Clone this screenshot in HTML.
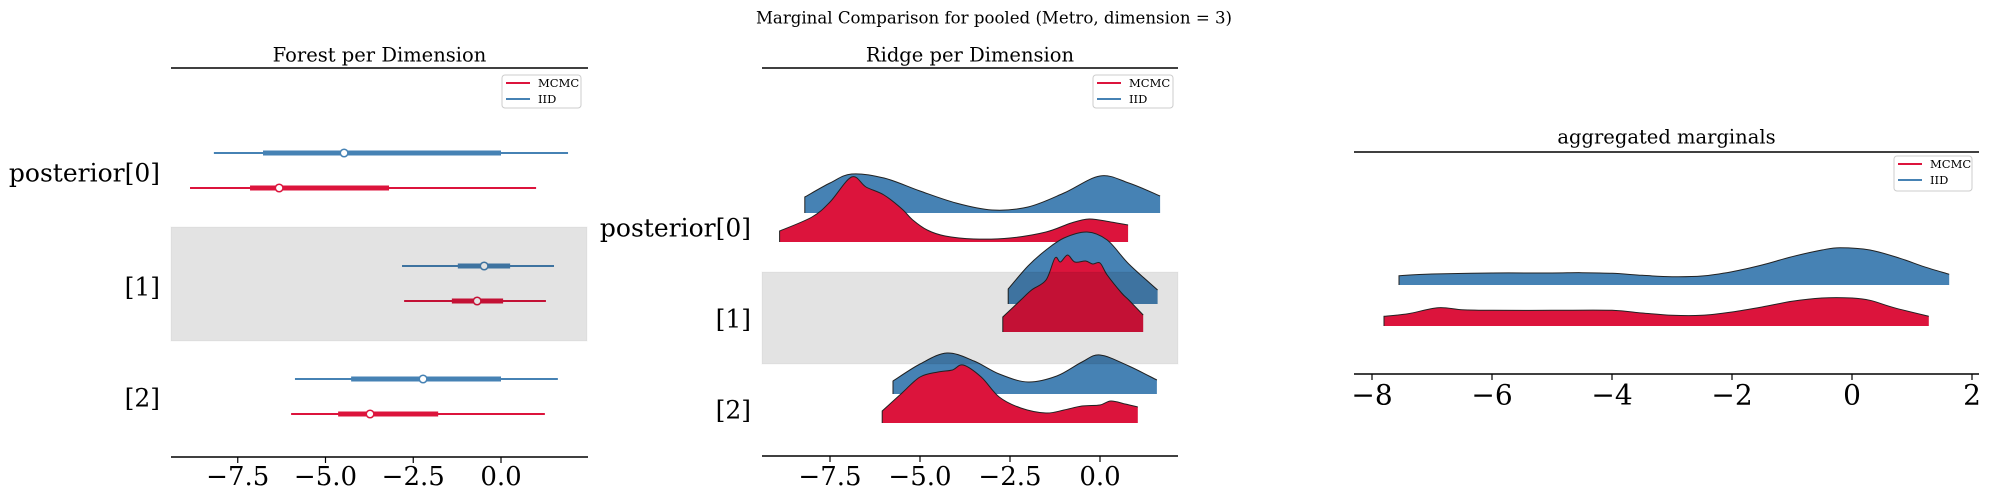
<!DOCTYPE html>
<html><head><meta charset="utf-8">
<style>
html,body{margin:0;padding:0;background:#fff;}
svg{display:block;font-family:"DejaVu Serif","Liberation Serif",serif;}
</style></head>
<body>
<svg id="fig" width="1989" height="499" viewBox="0 0 1989 499" xmlns="http://www.w3.org/2000/svg">
<text x="994" y="18" font-size="16.6" text-anchor="middle" dominant-baseline="central">Marginal Comparison for pooled (Metro, dimension = 3)</text>
<g id="p1"></g>
<g id="p2"></g>
<g id="p3"></g>
</svg>
<script>
const RED="#DC143C", BLUE="#4682B4";
const rowLabels=["posterior[0]","[1]","[2]"];
const seriesNames=["MCMC","IID"];
// Forest: [whiskerLo, boxLo, median, boxHi, whiskerHi]
const forestIID=[[-8.18,-6.78,-4.47,0.0,1.91],[-2.82,-1.23,-0.48,0.26,1.51],[-5.87,-4.27,-2.22,0.0,1.62]];
const forestMCMC=[[-8.86,-7.15,-6.32,-3.19,1.0],[-2.76,-1.40,-0.68,0.06,1.28],[-5.98,-4.64,-3.73,-1.79,1.25]];
const ticks12=[-7.5,-5.0,-2.5,0.0];
const tickLabels12=["\u22127.5","\u22125.0","\u22122.5","0.0"];
// Ridge densities (x, height)
const ridgeIIDx=[[-8.2,-7.5,-6.9,-6,-5,-4,-3,-2,-1,0,0.8,1.67],[-2.55,-2,-1.5,-1,-0.36,0.2,0.8,1.6],[-5.75,-5,-4.25,-3.5,-2.8,-2,-1.2,-0.5,0,0.8,1.58]];
const ridgeIIDy=[[16,30,39,35,22,10,3,6,20,37,30,17],[15,38,54,66,72,64,40,14],[13,30,41,33,20,12,18,32,39,28,14]];
const ridgeMCMCx=[[-8.9,-8,-7.5,-6.9,-6.5,-6,-5.5,-5.2,-4.8,-4.3,-3.5,-2.5,-1.5,-0.8,-0.3,0.3,0.78],[-2.7,-2.2,-1.9,-1.5,-1.25,-1.1,-0.9,-0.7,-0.4,-0.2,0,0.2,0.6,0.8,1.2],[-6.05,-5.5,-5.0,-4.5,-4.1,-3.8,-3.3,-2.8,-2.2,-1.5,-1.0,-0.5,0,0.3,0.7,1.05]];
const ridgeMCMCy=[[11,25,40,65,55,47,33,22,12,6,3,4,10,19,23,20,17],[15,32,42,52,74,70,77,70,71,68,69,57,39,32,17],[12,30,46,51,53,58,46,26,15,10,13,17,18,22,19,16]];
// Aggregated
const aggIIDx=[-7.55,-7,-6,-5,-4.5,-4,-3.5,-3,-2.5,-2,-1.5,-1,-0.5,-0.2,0.3,0.8,1.2,1.62];
const aggIIDy=[9.3,11,12,12,12.3,11.7,9.7,8.3,9,13.3,20,28.3,35,37.3,35,26.7,18.3,10.7];
const aggMCMCx=[-7.8,-7.4,-6.9,-6.5,-6,-5,-4,-3.5,-3,-2.5,-2,-1.5,-1,-0.5,0,0.3,0.7,1.28];
const aggMCMCy=[9.7,12.3,18.3,16.3,15.7,15.7,15.7,13,10.7,10.7,14,19,24.7,28,28,25.7,18.3,9.7];
const ticks3=[-8,-6,-4,-2,0,2];
const tickLabels3=["\u22128","\u22126","\u22124","\u22122","0","2"];

const NS="http://www.w3.org/2000/svg";
function mk(parent,tag,attrs){const e=document.createElementNS(NS,tag);for(const k in attrs)e.setAttribute(k,attrs[k]);parent.appendChild(e);return e;}
function lin(d0,d1,r0,r1){return v=>r0+(v-d0)*(r1-r0)/(d1-d0);}
function smooth(pts){let d="M"+pts[0][0]+","+pts[0][1];for(let i=0;i<pts.length-1;i++){const p0=pts[Math.max(0,i-1)],p1=pts[i],p2=pts[i+1],p3=pts[Math.min(pts.length-1,i+2)];const c1=[p1[0]+(p2[0]-p0[0])/6,p1[1]+(p2[1]-p0[1])/6],c2=[p2[0]-(p3[0]-p1[0])/6,p2[1]-(p3[1]-p1[1])/6];d+=" C"+c1[0].toFixed(1)+","+c1[1].toFixed(1)+" "+c2[0].toFixed(1)+","+c2[1].toFixed(1)+" "+p2[0].toFixed(1)+","+p2[1].toFixed(1);}return d;}

function axesFrame(g,x0,x1,yTop,yBot,title,titleY,sx,ticks,labels,labelY,fs){
  let t=mk(g,"text",{x:(x0+x1)/2,y:titleY,"font-size":19.5,"text-anchor":"middle","dominant-baseline":"central"});t.textContent=title;
  
  
  let s=mk(g,"line",{x1:x0,x2:x1,y1:yTop,y2:yTop,stroke:"#000","stroke-width":1.5});
  
  
  let b=mk(g,"line",{x1:x0,x2:x1,y1:yBot,y2:yBot,stroke:"#000","stroke-width":1.5});
  
  
  ticks.forEach((v,i)=>{const x=sx(v);
    let tk=mk(g,"line",{x1:x,x2:x,y1:yBot,y2:yBot+6,stroke:"#000","stroke-width":1.2});
    
    
    let tl=mk(g,"text",{x:x,y:labelY,"font-size":fs,"text-anchor":"middle","dominant-baseline":"central"});tl.textContent=labels[i];
    
    
  });
}
function legend(g,x0,y0,x1,y1){
  let r=mk(g,"rect",{x:x0,y:y0,width:x1-x0,height:y1-y0,rx:3,fill:"#fff",stroke:"#ccc","stroke-width":1});
  
  
  [RED,BLUE].forEach((c,i)=>{const y=y0+8+i*16;
    let l=mk(g,"line",{x1:x0+4,x2:x0+28,y1:y,y2:y,stroke:c,"stroke-width":2});
    
    
    let t=mk(g,"text",{x:x0+36,y:y,"font-size":11.5,"dominant-baseline":"central"});t.textContent=seriesNames[i];
    
    
  });
}
function rowLabel(g,x,y,txt){let t=mk(g,"text",{x:x,y:y,"font-size":25,"text-anchor":"end","dominant-baseline":"central"});t.textContent=txt;
  
  }
function band(g,x0,x1,y0,y1){let r=mk(g,"rect",{x:x0,y:y0,width:x1-x0,height:y1-y0,fill:"#000","fill-opacity":0.11,stroke:"#000","stroke-opacity":0.04});
  
  }

// Panel 1 forest
(function(){
  const g=document.getElementById("p1");
  const sx=lin(0,1,501,536.1);
  axesFrame(g,171,588,68,457,"Forest per Dimension",55,sx,ticks12,tickLabels12,477,26);
  const rowY=[[153,188],[266,301],[379,414]], labY=[173,287,398];
  rowLabels.forEach((l,i)=>rowLabel(g,160,labY[i],l));
  [forestIID,forestMCMC].forEach((data,si)=>{const c=si==0?BLUE:RED;
    data.forEach((d,i)=>{const y=rowY[i][si];
      let w=mk(g,"line",{x1:sx(d[0]),x2:sx(d[4]),y1:y,y2:y,stroke:c,"stroke-width":2});
      
      
      let b=mk(g,"line",{x1:sx(d[1]),x2:sx(d[3]),y1:y,y2:y,stroke:c,"stroke-width":5});
      
      
      let p=mk(g,"circle",{cx:sx(d[2]),cy:y,r:3.8,fill:"#fff",stroke:c,"stroke-width":1.5});
      
      
    });});
  band(g,171,587,227,341);
  legend(g,502,75,581,108);
})();

function ridge(g,sx,xs,ys,base,color,scale){
  const pts=xs.map((v,i)=>[sx(v),base-ys[i]*scale]);
  const top=smooth(pts);
  let f=mk(g,"path",{d:top+" L"+pts[pts.length-1][0]+","+base+" L"+pts[0][0]+","+base+" Z",fill:color,stroke:"none"});
  
  
  let l=mk(g,"path",{d:"M"+pts[0][0]+","+base+" L"+pts[0][0]+","+pts[0][1]+top.replace(/^M[^ ]+/,""),fill:"none",stroke:"#222","stroke-width":1});
  
  
}
// Panel 2 ridge
(function(){
  const g=document.getElementById("p2");
  const sx=lin(0,1,1100,1136);
  axesFrame(g,762,1178,68,456,"Ridge per Dimension",55,sx,ticks12,tickLabels12,477,26);
  const base=[[213,242],[304,332],[394,423]], labY=[228,319,410];
  rowLabels.forEach((l,i)=>rowLabel(g,751,labY[i],l));
  for(let i=0;i<3;i++){
    ridge(g,sx,ridgeIIDx[i],ridgeIIDy[i],base[i][0],BLUE,1);
    ridge(g,sx,ridgeMCMCx[i],ridgeMCMCy[i],base[i][1],RED,1);
  }
  band(g,762,1178,272,364);
  legend(g,1093,75,1173,108);
})();
// Panel 3 aggregated
(function(){
  const g=document.getElementById("p3");
  const sx=lin(0,1,1852,1912);
  axesFrame(g,1354,1979,152,374,"aggregated marginals",137,sx,ticks3,tickLabels3,395,28);
  ridge(g,sx,aggIIDx,aggIIDy,285,BLUE,1);
  ridge(g,sx,aggMCMCx,aggMCMCy,326,RED,1);
  legend(g,1894,156,1972,191);
})();
</script>
</body></html>
